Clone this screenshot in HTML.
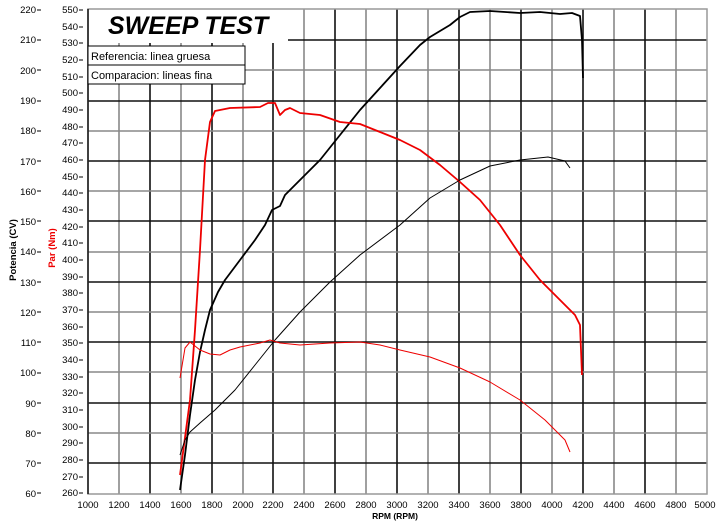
<!DOCTYPE html>
<html><head><meta charset="utf-8"><style>
body{margin:0;background:#fff}
svg text{font-family:"Liberation Sans",sans-serif}
</style></head><body>
<svg width="720" height="521" viewBox="0 0 720 521" xmlns="http://www.w3.org/2000/svg">
<rect width="720" height="521" fill="#fff"/>
<g id="grid" stroke-width="1.6">
<script type="text/javascript"></script>
</g>
<g stroke-width="1.6">
<!-- verticals -->
<path d="M119,9V494M181,9V494M243,9V494M304,9V494M366,9V494M428,9V494M490,9V494M552,9V494M614,9V494M676,9V494" stroke="#888"/>
<path d="M150,9V494M212,9V494M273,9V494M335,9V494M397,9V494M459,9V494M521,9V494M583,9V494M645,9V494" stroke="#111"/>
<!-- horizontals -->
<path d="M88,40H707M88,101H707M88,161H707M88,221H707M88,282H707M88,342H707M88,403H707M88,463H707" stroke="#111"/>
<path d="M88,70H707M88,131H707M88,191H707M88,252H707M88,312H707M88,372H707M88,433H707" stroke="#888"/>
</g>
<rect x="88" y="9" width="200" height="34" fill="#fff"/>
<rect x="88" y="9" width="619" height="485" fill="none" stroke="#999" stroke-width="1.5"/>
<line x1="88" y1="9" x2="88" y2="494" stroke="#111" stroke-width="1.5"/>
<text x="108" y="34" font-size="25" font-weight="bold" font-style="italic" fill="#000">SWEEP TEST</text>
<rect x="88" y="46" width="157" height="38" fill="#fff" stroke="#000" stroke-width="1"/>
<line x1="88" y1="65" x2="245" y2="65" stroke="#000"/>
<text x="91" y="60" font-size="11">Referencia: linea gruesa</text>
<text x="91" y="79" font-size="11">Comparacion: lineas fina</text>
<!-- curves -->
<g fill="none" stroke-linejoin="round">
<polyline stroke="#000" stroke-width="1.8" points="180,490 185,455 190,415 195,380 200,352 205,330 210,310 218,292 225,280 240,260 255,240 265,225 272,210 280,206 285,195 300,180 320,160 340,135 360,110 380,88 400,66 420,45 430,37 450,25 460,17 470,12 490,11 520,13 540,12 560,14 572,13 580,16 582,40 583,78"/>
<polyline stroke="#e00" stroke-width="1.8" points="180,475 186,430 190,400 195,330 200,250 205,160 210,122 215,111 230,108 260,107 268,103 275,103 280,115 285,110 290,108 300,113 320,115 340,122 360,124 370,128 380,132 400,140 420,150 440,165 460,182 480,200 500,225 520,255 540,280 560,300 575,315 580,325 582,375"/>
<polyline stroke="#000" stroke-width="1" points="180,455 185,440 190,432 200,423 215,410 235,390 255,365 275,340 300,312 330,282 360,255 400,225 430,198 460,180 490,166 520,160 548,157 565,161 570,168"/>
<polyline stroke="#e00" stroke-width="1" points="180,378 185,348 190,342 200,350 210,354 220,355 230,350 240,347 260,343 270,340 280,343 300,345 330,343 360,342 380,345 400,350 430,357 460,368 490,382 520,400 545,420 565,440 570,452"/>
</g>
<!-- axis ticks -->
<g font-size="9.5" fill="#000" text-anchor="end">
<text x="36" y="13">220</text><text x="36" y="43">210</text><text x="36" y="74">200</text><text x="36" y="104">190</text><text x="36" y="134">180</text><text x="36" y="165">170</text><text x="36" y="195">160</text><text x="36" y="225">150</text><text x="36" y="255">140</text><text x="36" y="286">130</text><text x="36" y="316">120</text><text x="36" y="346">110</text><text x="36" y="376">100</text><text x="36" y="407">90</text><text x="36" y="437">80</text><text x="36" y="467">70</text><text x="36" y="497">60</text>
</g>
<path d="M37,10h4M37,40h4M37,70h4M37,101h4M37,131h4M37,161h4M37,191h4M37,221h4M37,252h4M37,282h4M37,312h4M37,342h4M37,373h4M37,403h4M37,433h4M37,463h4M37,493h4" stroke="#000"/>
<g font-size="9.5" fill="#000" text-anchor="end" id="tq"></g>
<g font-size="9.5" fill="#000" text-anchor="end">
<text x="78" y="13">550</text><text x="78" y="30">540</text><text x="78" y="46">530</text><text x="78" y="63">520</text><text x="78" y="80">510</text><text x="78" y="96">500</text><text x="78" y="113">490</text><text x="78" y="130">480</text><text x="78" y="146">470</text><text x="78" y="163">460</text><text x="78" y="180">450</text><text x="78" y="196">440</text><text x="78" y="213">430</text><text x="78" y="230">420</text><text x="78" y="246">410</text><text x="78" y="263">400</text><text x="78" y="280">390</text><text x="78" y="296">380</text><text x="78" y="313">370</text><text x="78" y="330">360</text><text x="78" y="346">350</text><text x="78" y="363">340</text><text x="78" y="380">330</text><text x="78" y="396">320</text><text x="78" y="413">310</text><text x="78" y="430">300</text><text x="78" y="446">290</text><text x="78" y="463">280</text><text x="78" y="480">270</text><text x="78" y="496">260</text>
</g>
<path d="M79,10h4M79,27h4M79,43h4M79,60h4M79,77h4M79,93h4M79,110h4M79,127h4M79,143h4M79,160h4M79,177h4M79,193h4M79,210h4M79,227h4M79,243h4M79,260h4M79,277h4M79,293h4M79,310h4M79,327h4M79,343h4M79,360h4M79,377h4M79,393h4M79,410h4M79,427h4M79,443h4M79,460h4M79,477h4M79,493h4" stroke="#000"/>
<g font-size="9.5" fill="#000" text-anchor="middle">
<text x="88" y="508">1000</text><text x="119" y="508">1200</text><text x="150" y="508">1400</text><text x="181" y="508">1600</text><text x="212" y="508">1800</text><text x="243" y="508">2000</text><text x="273" y="508">2200</text><text x="304" y="508">2400</text><text x="335" y="508">2600</text><text x="366" y="508">2800</text><text x="397" y="508">3000</text><text x="428" y="508">3200</text><text x="459" y="508">3400</text><text x="490" y="508">3600</text><text x="521" y="508">3800</text><text x="552" y="508">4000</text><text x="583" y="508">4200</text><text x="614" y="508">4400</text><text x="645" y="508">4600</text><text x="676" y="508">4800</text><text x="705" y="508">5000</text>
</g>
<text x="395" y="519" font-size="8.5" font-weight="bold" text-anchor="middle">RPM (RPM)</text>
<text transform="translate(16,250) rotate(-90)" font-size="9.5" font-weight="bold" text-anchor="middle">Potencia (CV)</text>
<text transform="translate(55,248) rotate(-90)" font-size="9.5" font-weight="bold" fill="#e00" text-anchor="middle">Par (Nm)</text>
</svg>
</body></html>
